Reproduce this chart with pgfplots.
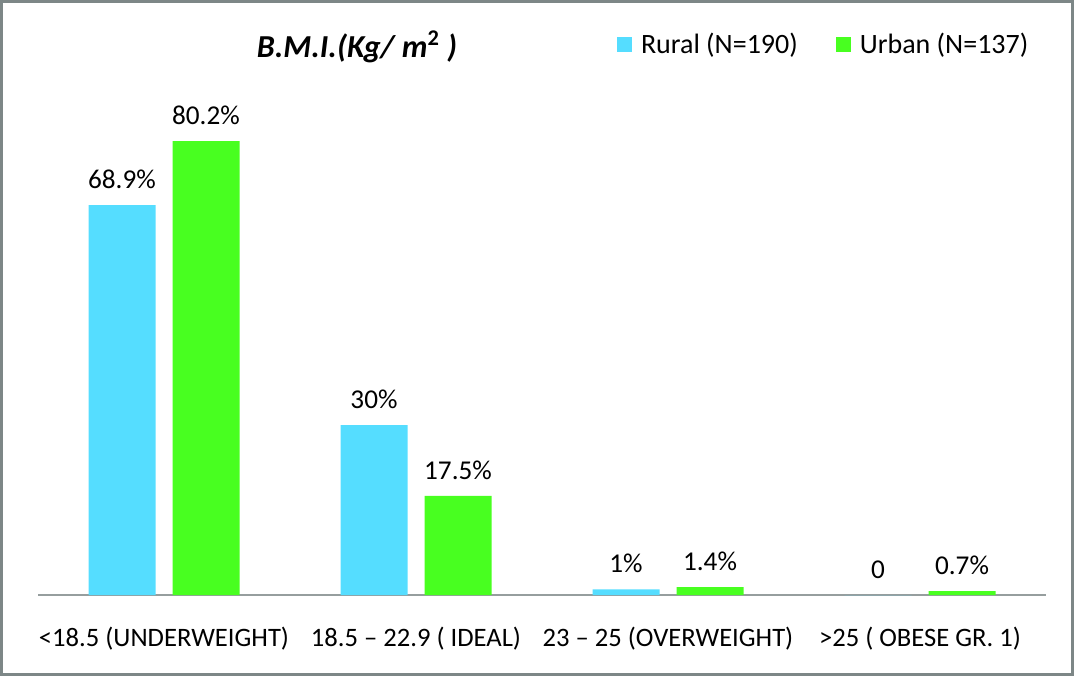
\documentclass[border=0pt]{standalone}
\usepackage{pgfplots}
\pgfplotsset{compat=1.18}
\usepackage{pgfplotstable}
\usepackage{fontspec}
\setmainfont{Carlito}
\definecolor{ruralc}{RGB}{85,221,255}
\definecolor{urbanc}{RGB}{72,255,32}
\definecolor{framec}{RGB}{125,135,135}
\definecolor{basec}{RGB}{150,158,158}
\pgfplotstableread{
x rural rl
0 68.9 68.9\%
1 30 30\%
2 1 1\%
3 0 0
}\ruraltab
\pgfplotstableread{
x urban ul
0 80.2 80.2\%
1 17.5 17.5\%
2 1.4 1.4\%
3 0.7 0.7\%
}\urbantab
\begin{document}
\begin{tikzpicture}
\draw[framec, line width=1.5pt] (0.75pt,0.75pt) rectangle (536.25pt,337.25pt);
\begin{axis}[
  at={(19pt,40.5pt)}, anchor=south west,
  scale only axis, width=504pt, height=254.7pt,
  xmin=-0.5, xmax=3.5, ymin=0, ymax=90,
  hide y axis,
  axis x line*=bottom,
  x axis line style={basec, line width=1pt, -},
  xtick=data,
  xticklabels={{<18.5 (UNDERWEIGHT)},{18.5 – 22.9 ( IDEAL)},{23 – 25 (OVERWEIGHT)},{>25 ( OBESE GR. 1)}},
  major tick length=0pt,
  xticklabel style={font=\fontsize{13.3}{15}\selectfont, inner sep=0pt, anchor=north, yshift=-16pt},
  ybar, bar width=33.5pt,
  every axis plot/.append style={draw=none},
  nodes near coords,
  point meta=explicit symbolic,
  every node near coord/.append style={font=\fontsize{13.6}{15}\selectfont, inner sep=0pt, anchor=south, yshift=8pt, text=black},
  legend style={at={(0.574,1.08)}, anchor=west, draw=none, fill=none, inner sep=0pt,
    font=\fontsize{14}{16}\selectfont, /tikz/every even column/.append style={column sep=17pt}},
  legend columns=2,
  legend image code/.code={\fill[#1] (0pt,-3.75pt) rectangle (7.5pt,3.75pt); \path (10pt,0pt);},
  clip=false,
]
\addplot[fill=ruralc, bar shift=-21pt] table[x=x, y=rural, meta=rl] {\ruraltab};
\addplot[fill=urbanc, bar shift=21pt] table[x=x, y=urban, meta=ul] {\urbantab};
\legend{Rural (N=190), Urban (N=137)}
\node[font=\fontsize{16}{18}\selectfont\bfseries\itshape] at (axis description cs:{(357-38)/1008},{(595-47)/509.4}) {B.M.I.(Kg/ m\textsuperscript{\upshape 2} )};
\end{axis}
\end{tikzpicture}
\end{document}
